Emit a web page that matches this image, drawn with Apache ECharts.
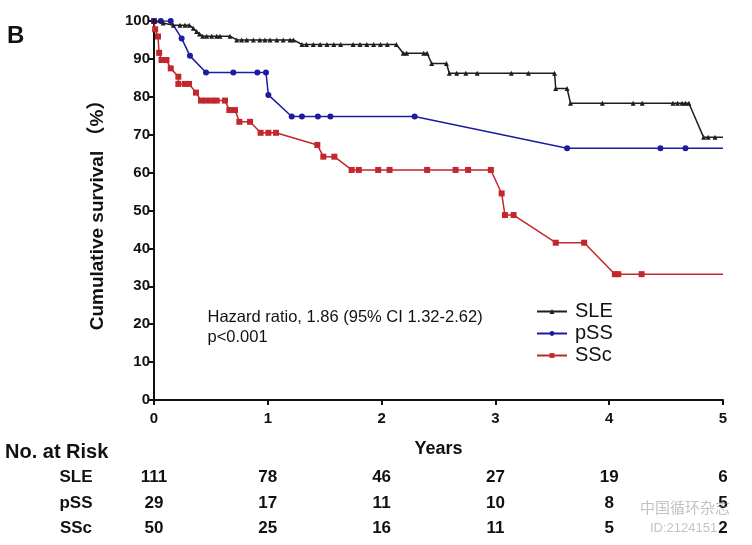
<!DOCTYPE html>
<html><head><meta charset="utf-8">
<script src="https://cdn.jsdelivr.net/npm/echarts@6/dist/echarts.min.js"></script>
<style>html,body{margin:0;padding:0;background:#fff}#c{width:752px;height:545px}</style>
</head><body><div id="c"></div>
<script>
var xTicks = [0, 1, 2, 3, 4, 5];
var yTicks = [0, 10, 20, 30, 40, 50, 60, 70, 80, 90, 100];
var seriesNames = ['SLE', 'pSS', 'SSc'];
var sleData = [[0,100],[0.08,99.5],[0.17,98.9],[0.228,98.9],[0.272,98.9],[0.31,98.9],[0.345,98.1],[0.375,97.2],[0.40,96.6],[0.428,96.0],[0.463,96.0],[0.507,96.0],[0.551,96.0],[0.58,96.0],[0.668,96.0],[0.727,95.0],[0.77,95.0],[0.815,95.0],[0.873,95.0],[0.93,95.0],[0.975,95.0],[1.02,95.0],[1.08,95.0],[1.135,95.0],[1.195,95.0],[1.225,95.0],[1.30,93.8],[1.34,93.8],[1.40,93.8],[1.46,93.8],[1.52,93.8],[1.58,93.8],[1.64,93.8],[1.75,93.8],[1.81,93.8],[1.87,93.8],[1.93,93.8],[1.99,93.8],[2.05,93.8],[2.13,93.8],[2.19,91.5],[2.22,91.5],[2.37,91.5],[2.40,91.5],[2.44,88.8],[2.57,88.8],[2.595,86.2],[2.66,86.2],[2.74,86.2],[2.84,86.2],[3.14,86.2],[3.29,86.2],[3.52,86.2],[3.53,82.2],[3.63,82.2],[3.66,78.3],[3.94,78.3],[4.21,78.3],[4.29,78.3],[4.56,78.3],[4.60,78.3],[4.64,78.3],[4.67,78.3],[4.70,78.3],[4.83,69.3],[4.87,69.3],[4.93,69.3],[5.0,69.3]];
var pssData = [[0,100],[0.06,100],[0.147,100],[0.243,95.4],[0.316,90.8],[0.457,86.4],[0.697,86.4],[0.908,86.4],[0.984,86.4],[1.005,80.5],[1.21,74.8],[1.30,74.8],[1.44,74.8],[1.55,74.8],[2.29,74.8],[3.63,66.4],[4.45,66.4],[4.67,66.4],[5.0,66.4]];
var sscData = [[0,100],[0.01,97.8],[0.035,95.9],[0.045,91.6],[0.066,89.7],[0.11,89.7],[0.147,87.5],[0.214,85.3],[0.214,83.4],[0.272,83.4],[0.308,83.4],[0.369,81.1],[0.413,79.0],[0.457,79.0],[0.507,79.0],[0.551,79.0],[0.624,79.0],[0.662,76.5],[0.712,76.5],[0.750,73.4],[0.844,73.4],[0.937,70.5],[1.005,70.5],[1.072,70.5],[1.435,67.3],[1.488,64.2],[1.585,64.2],[1.737,60.7],[1.80,60.7],[1.97,60.7],[2.07,60.7],[2.40,60.7],[2.65,60.7],[2.76,60.7],[2.96,60.7],[3.055,54.5],[3.084,48.8],[3.16,48.8],[3.53,41.5],[3.78,41.5],[4.05,33.2],[4.08,33.2],[4.285,33.2],[5.0,33.2]];
var riskYears = [0, 1, 2, 3, 4, 5];
var riskSLE = [111, 78, 46, 27, 19, 6];
var riskPSS = [29, 17, 11, 10, 8, 5];
var riskSSC = [50, 25, 16, 11, 5, 2];
var annotation = ['Hazard ratio, 1.86 (95% CI 1.32-2.62)', 'p<0.001'];

var chart = echarts.init(document.getElementById('c'), null, {renderer: 'canvas'});
var colors = ['#1e1e1e', '#1c1ca0', '#c1272d'];
var symbols = ['triangle', 'circle', 'rect'];
var sizes = [5, 6, 6];
var datas = [sleData, pssData, sscData];
function lastNoSymbol(d) {
  return d.map(function (p, i) {
    return i === d.length - 1 ? {value: p, symbol: 'none'} : p;
  });
}
var series = seriesNames.map(function (n, i) {
  return {
    name: n, type: 'line', data: lastNoSymbol(datas[i]), z: 10 - i,
    symbol: symbols[i], symbolSize: sizes[i], showAllSymbol: true,
    lineStyle: {color: colors[i], width: 1.5},
    itemStyle: {color: colors[i]},
    animation: false
  };
});
var bold = 'bold';
chart.setOption({
  animation: false,
  grid: {left: 154, right: 29, top: 21, bottom: 145},
  legend: {
    left: 531, top: 296, orient: 'vertical', itemGap: 1, itemWidth: 30, itemHeight: 6,
    textStyle: {fontSize: 20, color: '#111', fontFamily: 'Liberation Sans, Arial', padding: [0, 0, 0, 3], lineHeight: 21},
    data: seriesNames
  },
  xAxis: {
    type: 'value', min: 0, max: 5, interval: 1,
    name: 'Years', nameLocation: 'middle', nameGap: 40,
    nameTextStyle: {fontSize: 18, fontWeight: bold, color: '#111', fontFamily: 'Liberation Sans, Arial'},
    axisLine: {onZero: false, lineStyle: {color: '#111', width: 2}},
    axisTick: {length: 5, lineStyle: {color: '#111', width: 2}},
    axisLabel: {fontSize: 15, fontWeight: bold, color: '#111', margin: 11, fontFamily: 'Liberation Sans, Arial'},
    splitLine: {show: false}
  },
  yAxis: {
    type: 'value', min: 0, max: 100, interval: 10,
    name: 'Cumulative survival （%）', nameLocation: 'middle', nameGap: 47,
    nameTextStyle: {fontSize: 19, fontWeight: bold, color: '#111', fontFamily: 'Liberation Sans, Noto Sans CJK SC'},
    axisLine: {onZero: false, lineStyle: {color: '#111', width: 2}},
    axisTick: {length: 5, lineStyle: {color: '#111', width: 2}},
    axisLabel: {fontSize: 15, fontWeight: bold, color: '#111', margin: 4, fontFamily: 'Liberation Sans, Arial'},
    splitLine: {show: false}
  },
  series: series
});

var g = [];
g.push({type: 'text', x: 7, y: 24, style: {text: 'B', font: 'bold 24px Liberation Sans, Arial', fill: '#111', verticalAlign: 'top'}});
var ann0 = chart.convertToPixel({xAxisIndex: 0, yAxisIndex: 0}, [0.47, 24.5]);
g.push({type: 'text', x: ann0[0], y: ann0[1], style: {text: annotation[0] + '\n' + annotation[1], font: '16.5px Liberation Sans, Arial', fill: '#111', lineHeight: 20}});
g.push({type: 'text', x: 5, y: 442, style: {text: 'No. at Risk', font: 'bold 20px Liberation Sans, Arial', fill: '#111', verticalAlign: 'top'}});
var rows = [['SLE', riskSLE, 477], ['pSS', riskPSS, 503], ['SSc', riskSSC, 528]];
var nf = 'bold 17px Liberation Sans Narrow, Liberation Sans, Arial';
rows.forEach(function (r) {
  g.push({type: 'text', x: 76, y: r[2], style: {text: r[0], font: nf, fill: '#111', align: 'center', verticalAlign: 'middle'}});
  r[1].forEach(function (v, i) {
    var px = chart.convertToPixel({xAxisIndex: 0}, riskYears[i]);
    g.push({type: 'text', x: px, y: r[2], style: {text: String(v), font: nf, fill: '#111', align: 'center', verticalAlign: 'middle'}});
  });
});
g.push({type: 'text', x: 640, y: 507, style: {text: '中国循环杂志', font: '15px Noto Sans CJK SC', fill: 'rgba(120,120,120,0.45)', verticalAlign: 'middle'}});
g.push({type: 'text', x: 650, y: 528, style: {text: 'ID:2124151', font: '13px Liberation Sans', fill: 'rgba(120,120,120,0.45)', verticalAlign: 'middle'}});
chart.setOption({graphic: g});
</script></body></html>
